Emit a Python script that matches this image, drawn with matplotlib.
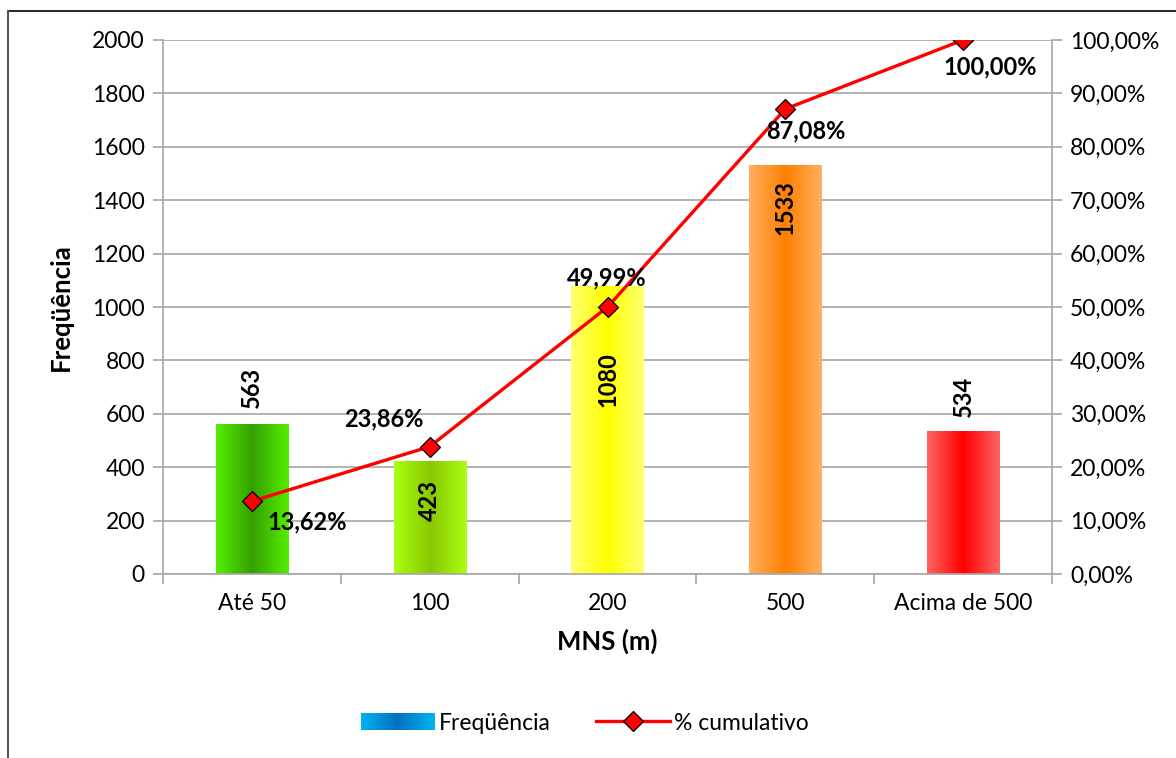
import numpy as np
import matplotlib
matplotlib.use("Agg")
import matplotlib.pyplot as plt
from matplotlib.colors import LinearSegmentedColormap
from matplotlib.lines import Line2D
from matplotlib.patches import Rectangle
from matplotlib.legend_handler import HandlerBase
from matplotlib.ticker import FuncFormatter, FixedLocator

plt.rcParams['font.family'] = ['Lato', 'DejaVu Sans']

# data
categories = ['Até 50', '100', '200', '500', 'Acima de 500']
freq = [563, 423, 1080, 1533, 534]
cum_pct = [13.62, 23.86, 49.99, 87.08, 100.00]

# bar gradient colours (edge, centre)
bar_edge = ['#55ee00', '#aaff11', '#ffff70', '#ffb060', '#ff6464']
bar_mid = ['#33a000', '#88c800', '#ffff00', '#ff7f00', '#ff0000']

W, H = 1176, 758
fig = plt.figure(figsize=(W / 100, H / 100), dpi=100)
ax = fig.add_axes([163 / W, (H - 574) / H, (1052 - 163) / W, (574 - 40) / H])
ax2 = ax.twinx()

grid_c = '#a6a6a6'
tick_fs = 16.5
lbl_fs = 17

x = np.arange(len(categories))
bars = ax.bar(x, freq, 0.405, color='none', edgecolor='none', zorder=2)
grad = np.linspace(0, 1, 256).reshape(1, -1)
for b, e, m in zip(bars, bar_edge, bar_mid):
    cm = LinearSegmentedColormap.from_list('g', [e, m, e])
    im = ax.imshow(grad, cmap=cm, aspect='auto', zorder=2,
                   extent=[b.get_x(), b.get_x() + b.get_width(), 0, b.get_height()])
    im.set_clip_path(b)

ax.set_xlim(-0.5, len(categories) - 0.5)
ax.set_ylim(0, 2000)
ax.set_yticks(range(0, 2001, 200))
ax.yaxis.grid(True, color=grid_c, lw=1.2)
ax.set_axisbelow(True)
ax.set_xticks(x)
ax.set_xticklabels(categories, fontsize=tick_fs)
ax.xaxis.set_minor_locator(FixedLocator(np.arange(-0.5, len(categories), 1.0)))
ax.tick_params(axis='x', which='major', length=0, pad=14)
ax.tick_params(axis='x', which='minor', length=7, color=grid_c, width=1.2)
ax.tick_params(axis='y', labelsize=tick_fs, length=7, color=grid_c, width=1.2, pad=6)
for s in ['top', 'right']:
    ax.spines[s].set_visible(False)
for s in ['left', 'bottom']:
    ax.spines[s].set_color(grid_c)
    ax.spines[s].set_linewidth(1.2)

ax.set_ylabel('Freqüência', fontsize=18.5, fontweight='bold', labelpad=14)
ax.set_xlabel('MNS (m)', fontsize=18.5, fontweight='bold', labelpad=10)

# bar value labels (offset in pixels from bar top)
bar_off = [36, -39, -94, -43, 35]
for b, v, off in zip(bars, freq, bar_off):
    ax.annotate(str(v), (b.get_x() + b.get_width() / 2, v),
                xytext=(0, off * 0.72), textcoords='offset points',
                rotation=90, ha='center', va='center',
                fontsize=lbl_fs, fontweight='bold', zorder=5)

# cumulative line
ax2.plot(x, cum_pct, color='#ff0000', lw=2.4, marker='D', markersize=10,
         markerfacecolor='#ff0000', markeredgecolor='black', markeredgewidth=0.9,
         zorder=4)
ax2.set_ylim(0, 100)
ax2.set_yticks(range(0, 101, 10))
ax2.yaxis.set_major_formatter(FuncFormatter(lambda v, p: f'{v:.2f}%'.replace('.', ',')))
ax2.tick_params(axis='y', labelsize=tick_fs, length=7, color=grid_c, width=1.2, pad=6)
for s in ['top', 'left', 'bottom']:
    ax2.spines[s].set_visible(False)
ax2.spines['right'].set_color(grid_c)
ax2.spines['right'].set_linewidth(1.2)

pct_off = [(55, -21), (-46, 28), (-1, 29), (21, -22), (27, -27)]
for xi, v, (dx, dy) in zip(x, cum_pct, pct_off):
    ax2.annotate(f'{v:.2f}%'.replace('.', ','), (xi, v), xytext=(dx * 0.72, dy * 0.72),
                 textcoords='offset points', ha='center', va='center',
                 fontsize=lbl_fs, fontweight='bold', zorder=6)


# legend with gradient swatch
class GradHandler(HandlerBase):
    def create_artists(self, legend, orig, xd, yd, width, height, fontsize, trans):
        cm = LinearSegmentedColormap.from_list('b', ['#00b0f0', '#0070c0', '#00b0f0'])
        n = 30
        arts = []
        for i in range(n):
            r = Rectangle((xd + width * i / n, yd), width / n + 0.3, height,
                          facecolor=cm(i / (n - 1)), edgecolor='none', transform=trans)
            arts.append(r)
        return arts


h_bar = Rectangle((0, 0), 1, 1)
h_line = Line2D([], [], color='#ff0000', lw=2.4, marker='D', markersize=10,
                markerfacecolor='#ff0000', markeredgecolor='black', markeredgewidth=0.9)
fig.legend([h_bar, h_line], ['Freqüência', '% cumulativo'],
           handler_map={h_bar: GradHandler()}, loc='center',
           bbox_to_anchor=(585 / W, 1 - 723 / H), ncol=2, frameon=False,
           fontsize=tick_fs, handlelength=3.2, handletextpad=0.2, columnspacing=2.0)

# chart border (top and left visible)
fig.add_artist(Line2D([8 / W, 1], [1 - 11 / H, 1 - 11 / H], color='black', lw=1.2))
fig.add_artist(Line2D([8 / W, 8 / W], [0, 1 - 11 / H], color='#555555', lw=1.5))

fig.savefig('out.png', dpi=100)
